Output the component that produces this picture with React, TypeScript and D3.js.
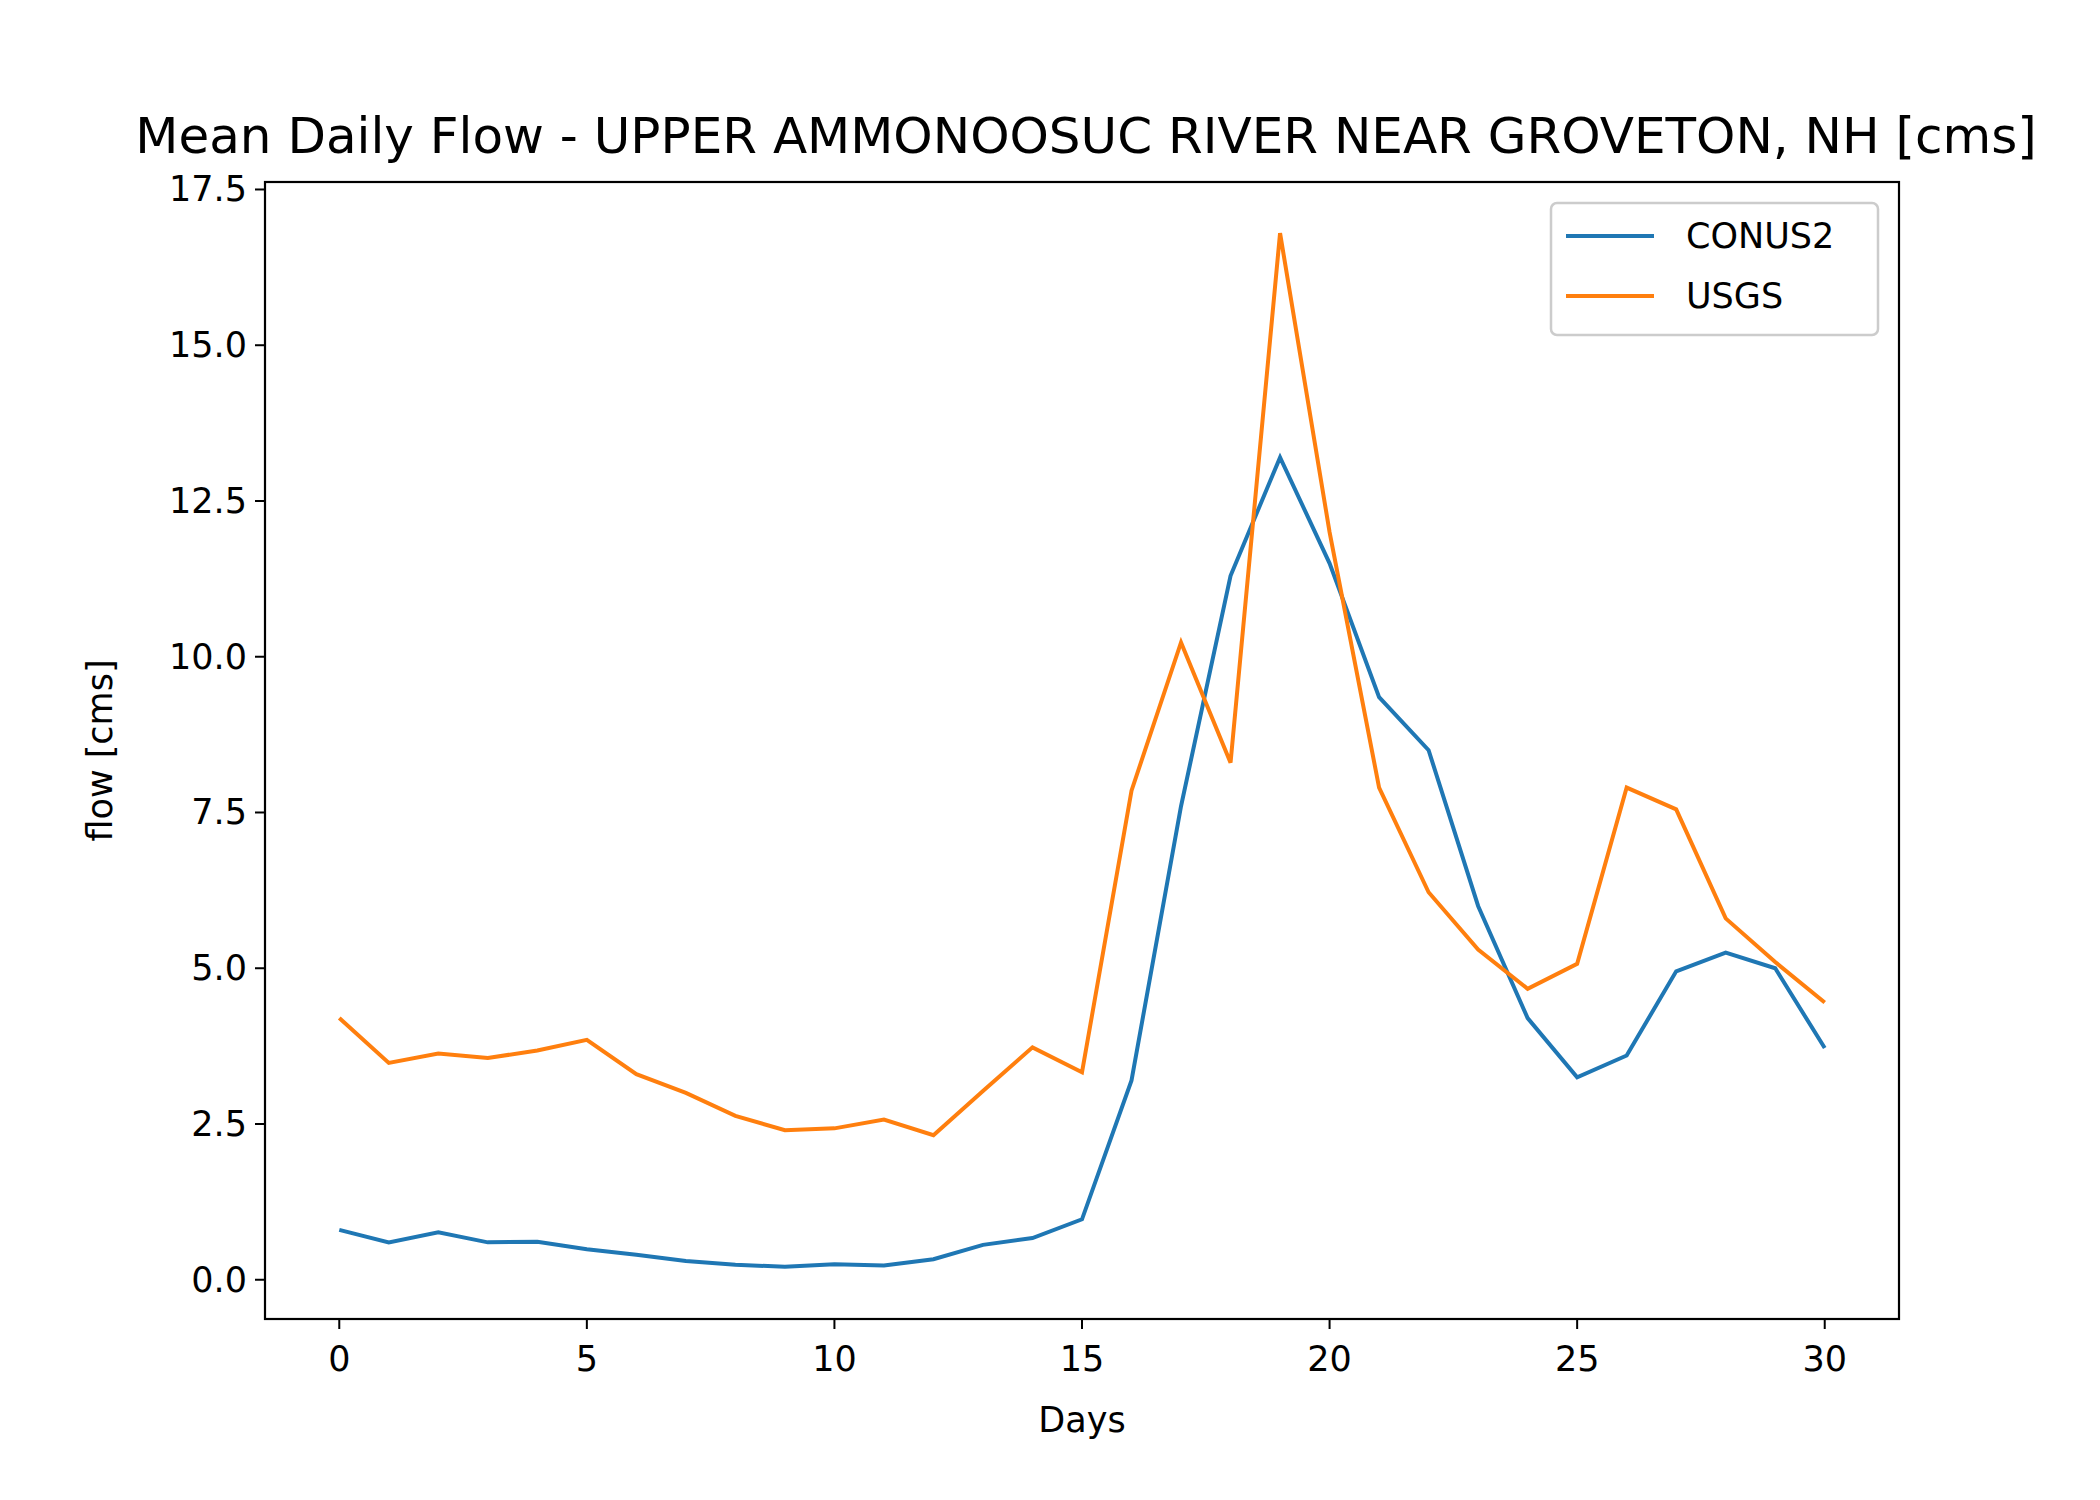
import * as d3 from "d3"

const days = d3.range(0, 31)
const conus2 = [0.8, 0.6, 0.76, 0.6, 0.61, 0.49, 0.4, 0.3, 0.24, 0.21, 0.25, 0.23, 0.33, 0.56, 0.67, 0.97, 3.2, 7.6, 11.3, 13.2, 11.5, 9.35, 8.5, 6.0, 4.2, 3.25, 3.6, 4.95, 5.25, 5.0, 3.72]
const usgs = [4.2, 3.48, 3.63, 3.56, 3.68, 3.85, 3.3, 3.0, 2.63, 2.4, 2.43, 2.57, 2.32, 3.03, 3.73, 3.33, 7.85, 10.23, 8.3, 16.8, 12.0, 7.9, 6.22, 5.3, 4.67, 5.07, 7.9, 7.55, 5.8, 5.1, 4.45]
const xTicks = [0, 5, 10, 15, 20, 25, 30]
const yTicks = [0, 2.5, 5, 7.5, 10, 12.5, 15, 17.5]

const series = [
  { name: "CONUS2", values: conus2, color: "#1f77b4" },
  { name: "USGS", values: usgs, color: "#ff7f0e" },
]

export default function App() {
  const W = 2100, H = 1500
  const m = { left: 265, right: 1899, top: 182, bottom: 1319 }
  const x = d3.scaleLinear().domain([-1.5, 31.5]).range([m.left, m.right])
  const y = d3.scaleLinear().domain([-0.63, 17.62]).range([m.bottom, m.top])
  const line = d3.line<number>().x((_, i) => x(days[i])).y((d) => y(d))
  const font = "DejaVu Sans"

  return (
    <svg width={W} height={H} style={{ display: "block", margin: "-8px" }} fontFamily={font}>
      <rect width={W} height={H} fill="white" />
      <text x={1086} y={153} textAnchor="middle" fontSize={50}>
        Mean Daily Flow - UPPER AMMONOOSUC RIVER NEAR GROVETON, NH [cms]
      </text>
      {series.map((s) => (
        <path key={s.name} d={line(s.values) ?? ""} fill="none" stroke={s.color} strokeWidth={4} />
      ))}
      <rect x={m.left} y={m.top} width={m.right - m.left} height={m.bottom - m.top} fill="none" stroke="black" strokeWidth={2.2} />
      {xTicks.map((t) => (
        <g key={t}>
          <line x1={x(t)} x2={x(t)} y1={m.bottom} y2={m.bottom + 10} stroke="black" strokeWidth={2} />
          <text x={x(t)} y={m.bottom + 52} textAnchor="middle" fontSize={35}>{t}</text>
        </g>
      ))}
      {yTicks.map((t) => (
        <g key={t}>
          <line x1={m.left - 10} x2={m.left} y1={y(t)} y2={y(t)} stroke="black" strokeWidth={2} />
          <text x={m.left - 18} y={y(t) + 12} textAnchor="end" fontSize={35}>{t.toFixed(1)}</text>
        </g>
      ))}
      <text x={(m.left + m.right) / 2} y={1432} textAnchor="middle" fontSize={35}>Days</text>
      <text transform={`translate(112,${(m.top + m.bottom) / 2}) rotate(-90)`} textAnchor="middle" fontSize={35}>flow [cms]</text>
      <rect x={1551} y={203} width={327} height={132} rx={6} fill="white" stroke="#cccccc" strokeWidth={2.5} />
      {series.map((s, i) => (
        <g key={s.name}>
          <line x1={1566} x2={1654} y1={236 + i * 60} y2={236 + i * 60} stroke={s.color} strokeWidth={4} />
          <text x={1686} y={248 + i * 60} fontSize={35}>{s.name}</text>
        </g>
      ))}
    </svg>
  )
}
